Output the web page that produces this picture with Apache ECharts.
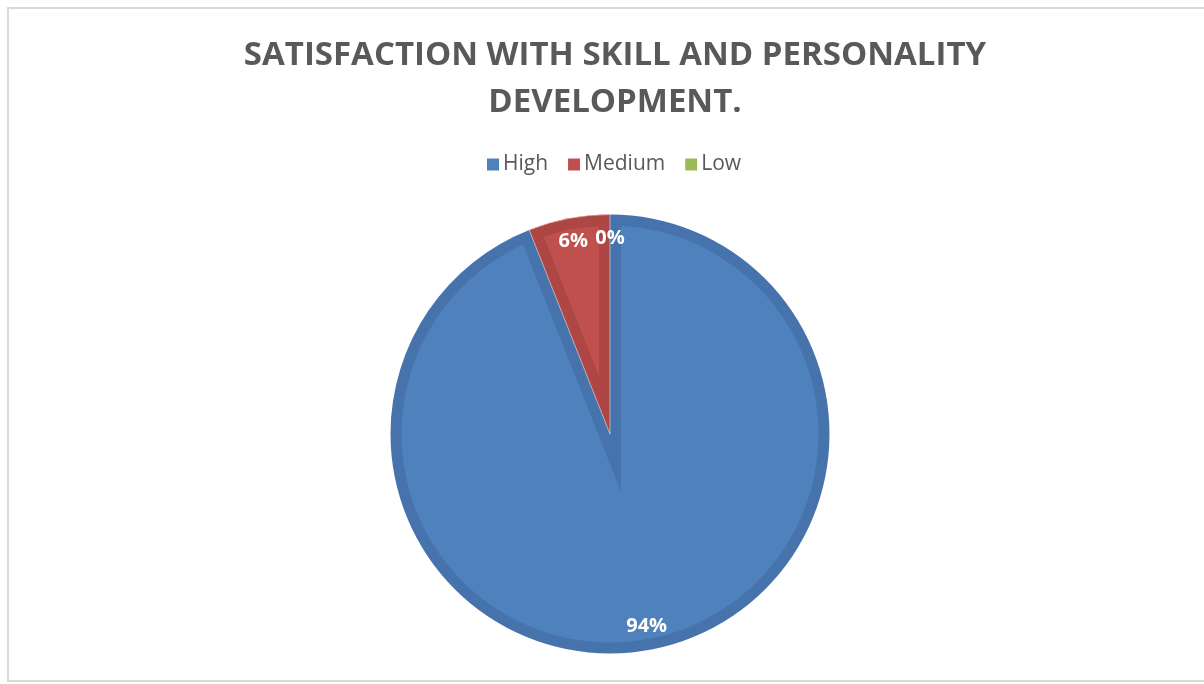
<!DOCTYPE html>
<html>
<head>
<meta charset="utf-8">
<script src="https://cdn.jsdelivr.net/npm/echarts@6/dist/echarts.min.js"></script>
<style>
html,body{margin:0;padding:0;background:#fff;}
#chart{width:1204px;height:684px;}
</style>
</head>
<body>
<div id="chart"></div>
<script>
// ---- data ----
const categories = ['High', 'Medium', 'Low'];
const values = [94, 6, 0];
const titleText = 'SATISFACTION WITH SKILL AND PERSONALITY\nDEVELOPMENT.';

// ---- style ----
const lightColors = ['#4F81BD', '#C0504D', '#9BBB59'];
const darkColors = ['#4673AB', '#AE4744', '#8AA84F'];
const C = [610, 434];
const R = 219.5;
const bevel = 11;
const transparent = 'rgba(0,0,0,0)';

const total = values.reduce((a, b) => a + b, 0);

function pieBase(extra) {
  return Object.assign({
    type: 'pie',
    startAngle: 90,
    clockwise: true,
    center: C,
    silent: true,
    animation: false,
    label: { show: false },
    labelLine: { show: false },
    emphasis: { disabled: true },
    avoidLabelOverlap: false,
    minAngle: 0,
    padAngle: 0
  }, extra);
}

function dataWith(colorFn) {
  return categories.map((name, i) => ({
    name: name,
    value: values[i],
    itemStyle: { color: colorFn(i), borderWidth: 0 }
  }));
}

const series = [];
// dark base
series.push(pieBase({ radius: R, data: dataWith(i => darkColors[i]) }));

// large slices: concentric light fill
let bigIndex = values.indexOf(Math.max.apply(null, values));
series.push(pieBase({
  radius: R - bevel,
  data: dataWith(i => (values[i] / total * 360 >= 180 ? lightColors[i] : transparent))
}));

// small slices: bevel built by shifted wedges
let cum = 0;
values.forEach((v, i) => {
  const ang = v / total * 360;
  const startMath = 90 - cum;
  cum += ang;
  if (v <= 0 || ang >= 180) return;
  const midMath = (startMath - ang / 2) * Math.PI / 180;
  const b = [Math.cos(midMath), -Math.sin(midMath)];
  const t = bevel / Math.sin((ang / 2) * Math.PI / 180);
  const only = (col) => (j => (j === i ? col : transparent));
  series.push(pieBase({
    center: [C[0] - t * b[0], C[1] - t * b[1]],
    radius: R - bevel + t,
    data: dataWith(only(darkColors[bigIndex]))
  }));
  series.push(pieBase({
    radius: R,
    data: dataWith(only(darkColors[i])).map((d, j) => {
      if (j === i) { d.itemStyle.borderWidth = 1; d.itemStyle.borderColor = 'rgba(255,235,235,0.55)'; }
      return d;
    })
  }));
  series.push(pieBase({
    center: [C[0] + t * b[0], C[1] + t * b[1]],
    radius: Math.max(R - bevel - t, 0),
    data: dataWith(only(lightColors[i]))
  }));
});

// label ring
series.push(pieBase({
  radius: [166, R],
  data: dataWith(() => transparent),
  label: {
    show: true,
    position: 'inside',
    color: '#ffffff',
    fontFamily: 'Open Sans',
    fontWeight: 'bold',
    fontSize: 20,
    formatter: p => Math.round(p.value / total * 100) + '%'
  }
}));

const chart = echarts.init(document.getElementById('chart'), null, { renderer: 'canvas' });
chart.setOption({
  backgroundColor: '#ffffff',
  animation: false,
  title: {
    text: titleText,
    left: 610,
    textAlign: 'center',
    top: 27,
    z: 20,
    textStyle: {
      fontFamily: 'Open Sans',
      fontWeight: 'bold',
      fontSize: 33,
      color: '#595959',
      lineHeight: 47
    }
  },
  legend: {
    data: categories.map((n, i) => ({ name: n, itemStyle: { color: lightColors[i] } })),
    left: 482,
    top: 149,
    z: 20,
    icon: 'rect',
    itemWidth: 12,
    itemHeight: 12,
    itemGap: 20,
    selectedMode: false,
    textStyle: { fontFamily: 'Open Sans', fontSize: 21, color: '#595959', padding: [0, 0, 0, -1] }
  },
  graphic: [{
    type: 'rect',
    z: 30,
    silent: true,
    shape: { x: 8, y: 8, width: 1220, height: 673 },
    style: { fill: null, stroke: '#d9d9d9', lineWidth: 2 }
  }],
  series: series
});
</script>
</body>
</html>
